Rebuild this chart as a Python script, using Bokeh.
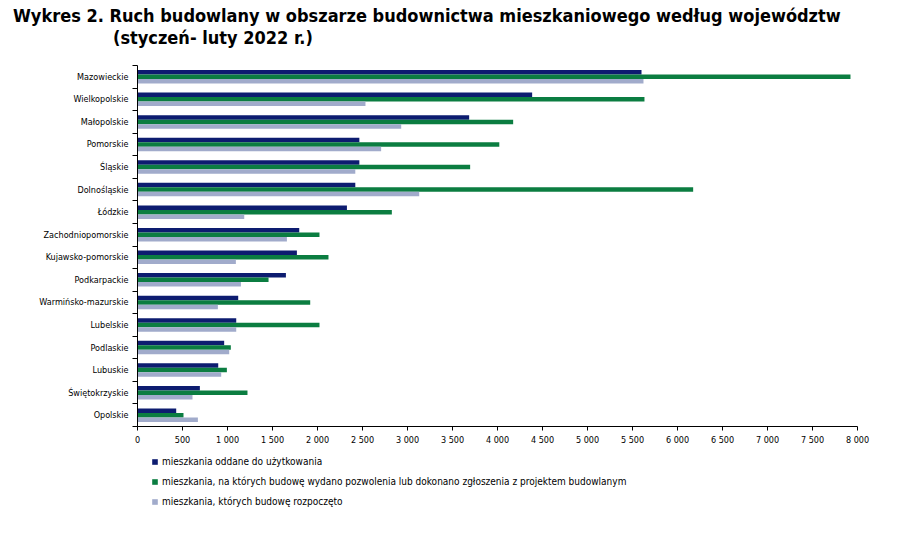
from bokeh.plotting import figure
from bokeh.models import (Range1d, LinearAxis, FixedTicker, Legend,
                          LegendItem, ColumnDataSource, Div)
from bokeh.layouts import column
from bokeh.embed import file_html
from bokeh.resources import INLINE

regions = ["Mazowieckie", "Wielkopolskie", "Małopolskie", "Pomorskie", "Śląskie",
           "Dolnośląskie", "Łódzkie", "Zachodniopomorskie", "Kujawsko-pomorskie",
           "Podkarpackie", "Warmińsko-mazurskie", "Lubelskie", "Podlaskie",
           "Lubuskie", "Świętokrzyskie", "Opolskie"]
oddane = [5600, 4385, 3685, 2465, 2465, 2420, 2327, 1797, 1771, 1649, 1119, 1097,
          963, 897, 693, 430]
pozwolenia = [7922, 5633, 4174, 4020, 3696, 6174, 2826, 2022, 2122, 1456, 1919,
              2022, 1037, 993, 1222, 511]
rozpoczete = [5622, 2533, 2930, 2707, 2420, 3130, 1186, 1660, 1093, 1149, 893,
              1097, 1019, 930, 611, 671]
series_names = ["mieszkania oddane do użytkowania",
                "mieszkania, na których budowę wydano pozwolenia lub dokonano zgłoszenia z projektem budowlanym",
                "mieszkania, których budowę rozpoczęto"]
x_ticks = [0, 500, 1000, 1500, 2000, 2500, 3000, 3500, 4000, 4500, 5000, 5500,
           6000, 6500, 7000, 7500, 8000]
x_tick_labels = ["0", "500", "1 000", "1 500", "2 000", "2 500", "3 000", "3 500",
                 "4 000", "4 500", "5 000", "5 500", "6 000", "6 500", "7 000",
                 "7 500", "8 000"]
title_lines = ["Wykres 2. Ruch budowlany w obszarze budownictwa mieszkaniowego według województw",
               "(styczeń- luty 2022 r.)"]

colors = ["#0d1c70", "#0b7d41", "#a1abcb"]
FONT = "DejaVu Sans Condensed"

n = len(regions)
centers = [n - 1 - i for i in range(n)]
bounds = [k - 0.5 for k in range(n + 1)]
bar_h = 0.2
offsets = [bar_h, 0.0, -bar_h]


def blank(fig):
    fig.outline_line_color = None
    fig.xgrid.grid_line_color = None
    fig.ygrid.grid_line_color = None
    return fig


# ---- title strip ----
title_html = (
    "<div style=\"font-family:'DejaVu Sans Condensed';font-weight:bold;"
    "font-size:18px;line-height:22px;color:#000;white-space:nowrap;"
    "padding:5px 0 0 13px;margin:0\">"
    + title_lines[0]
    + "<br><span style=\"padding-left:100px\">" + title_lines[1] + "</span></div>"
)
p0 = Div(text=title_html, width=903, height=65, margin=0)

# ---- main chart ----
p = blank(figure(frame_width=720, frame_height=361, x_range=Range1d(0, 8000),
                 y_range=Range1d(-0.5, n - 0.5), output_backend="svg",
                 toolbar_location=None, y_axis_location=None,
                 min_border_left=137, min_border_right=46, min_border_top=0,
                 min_border_bottom=22))

sources = []
for vals, off, col in zip([oddane, pozwolenia, rozpoczete], offsets, colors):
    src = ColumnDataSource(dict(y=[c + off for c in centers], right=vals))
    sources.append(src)
    p.hbar(y="y", right="right", left=0, height=bar_h, source=src,
           fill_color=col, line_color=None)

xa = p.xaxis[0]
xa.ticker = FixedTicker(ticks=x_ticks)
xa.major_label_overrides = {t: l for t, l in zip(x_ticks, x_tick_labels)}
xa.major_label_text_font = FONT
xa.major_label_text_font_size = "9px"
xa.major_label_text_color = "#000000"
xa.major_tick_in = 0
xa.major_tick_out = 4
xa.minor_tick_out = 0
xa.minor_tick_in = 0
xa.axis_line_color = "#000000"
xa.major_tick_line_color = "#000000"
xa.major_label_standoff = 4

ya1 = LinearAxis(ticker=FixedTicker(ticks=bounds),
                 major_label_overrides={b: "" for b in bounds},
                 major_label_standoff=0,
                 major_tick_in=0, major_tick_out=5, minor_tick_out=0,
                 minor_tick_in=0, axis_line_color="#000000",
                 major_tick_line_color="#000000")
p.add_layout(ya1, "left")
ya2 = LinearAxis(ticker=FixedTicker(ticks=centers),
                 major_label_overrides={c: r for c, r in zip(centers, regions)},
                 major_label_text_font=FONT, major_label_text_font_size="9px",
                 major_label_text_color="#000000", major_label_standoff=4,
                 major_tick_in=0, major_tick_out=0, minor_tick_out=0,
                 minor_tick_in=0, axis_line_color=None)
p.add_layout(ya2, "left")

# ---- legend strip ----
p2 = blank(figure(frame_width=903, frame_height=85, x_range=Range1d(0, 903),
                  y_range=Range1d(85, 0), output_backend="svg",
                  toolbar_location=None, x_axis_location=None,
                  y_axis_location=None, min_border=0))
leg_renderers = []
for src, col in zip(sources, colors):
    r = p2.hbar(y="y", right="right", left=0, height=1, source=src,
                fill_color=col, line_color=None)
    r.visible = False
    leg_renderers.append(r)
legend = Legend(items=[LegendItem(label=s, renderers=[r])
                       for s, r in zip(series_names, leg_renderers)],
                location=(151, 25), orientation="vertical",
                label_text_font=FONT, label_text_font_size="10px",
                label_text_color="#000000",
                glyph_width=7, glyph_height=7, label_height=14, spacing=6,
                label_standoff=4, margin=0, padding=2,
                inactive_fill_alpha=0,
                border_line_color=None, background_fill_alpha=0)
p2.add_layout(legend)

layout = column(p0, p, p2, spacing=0)
open("out.html", "w").write(file_html(layout, INLINE))
